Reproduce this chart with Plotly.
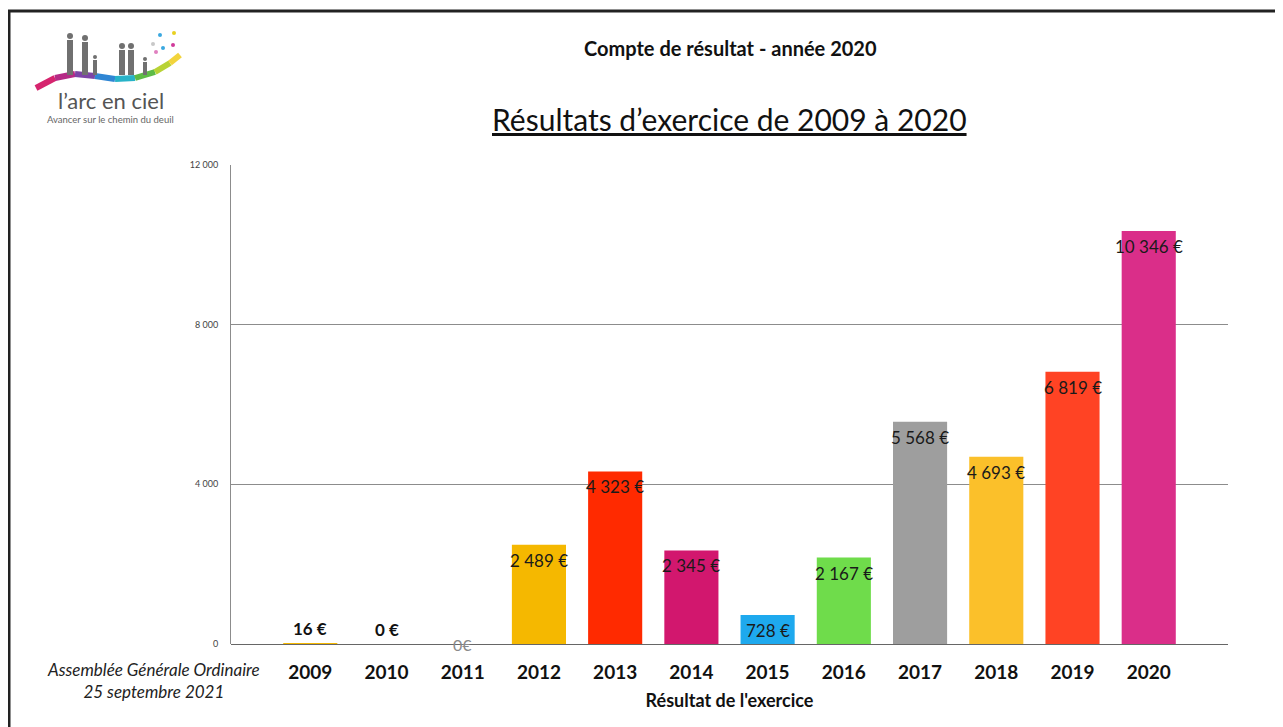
import plotly.graph_objects as go

# data
years = ["2009", "2010", "2011", "2012", "2013", "2014", "2015", "2016", "2017", "2018", "2019", "2020"]
results = [16, 0, 0, 2489, 4323, 2345, 728, 2167, 5568, 4693, 6819, 10346]
labels = ["16 €", "0 €", "0€", "2 489 €", "4 323 €", "2 345 €", "728 €", "2 167 €",
          "5 568 €", "4 693 €", "6 819 €", "10 346 €"]
bar_colors = ["#F5B800", "#F5B800", "#F5B800", "#F5B800", "#FF2A00", "#D2176E", "#1EA9EE",
              "#6FDC4B", "#9E9E9E", "#FBC02A", "#FF4324", "#DA2E89"]
y_ticks = [0, 4000, 8000, 12000]
y_ticktext = ["0", "4 000", "8 000", "12 000"]

# the page body has an 8px margin, so the figure is drawn 8px in from the corner
OX, OY = 8, 8
W, H = 1283 - OX, 727 - OY
L, R, T, B = 231 - OX, 55, 165 - OY, 83
FONT = "Lato"


def px(x):
    return (x - OX - L) / (W - L - R)


def py(y):
    return (H - B - (y - OY)) / (H - T - B)


def note(x, y, text, size, color="#111", **kw):
    return dict(xref="paper", yref="paper", x=px(x), y=py(y), text=text, showarrow=False,
                xanchor="center", yanchor="middle",
                font=dict(family=FONT, size=size, color=color), **kw)


fig = go.Figure()
fig.add_trace(go.Bar(
    x=years, y=results, marker=dict(color=bar_colors, line=dict(width=0)),
    width=0.71, hoverinfo="x+y",
))

# value labels; x is the category index (numeric-looking names get read as numbers)
annotations = []
for i, (v, lab) in enumerate(zip(results, labels)):
    if i < 2:
        # tiny values: bold label sitting just above the axis
        annotations.append(dict(x=i, y=v, text="<b>" + lab + "</b>", showarrow=False,
                                xanchor="center", yanchor="bottom", yshift=2,
                                font=dict(family=FONT, size=17, color="#111")))
    elif i == 2:
        annotations.append(dict(x=i, y=v, text=lab, showarrow=False,
                                xanchor="center", yanchor="middle",
                                font=dict(family=FONT, size=16, color="#8a8a8a")))
    else:
        annotations.append(dict(x=i, y=v, text=lab, showarrow=False,
                                xanchor="center", yanchor="top", yshift=-3,
                                font=dict(family=FONT, size=17, color="#1a1a1a")))

# slide texts
annotations += [
    note(730, 48, "<b>Compte de résultat - année 2020</b>", 20),
    note(729, 119, "<u>Résultats d’exercice de 2009 à 2020</u>", 30),
    note(153, 680, "<i>Assemblée Générale Ordinaire<br>25 septembre 2021</i>", 17, "#222"),
    note(111, 101, "l’arc en ciel", 22, "#555"),
    note(110, 119, "Avancer sur le chemin du deuil", 9.5, "#666"),
]

shapes = [
    # slide frame
    dict(type="rect", xref="paper", yref="paper", x0=px(9), x1=px(1300), y0=py(11), y1=py(760),
         line=dict(color="#222", width=3), fillcolor="rgba(0,0,0,0)", layer="below"),
]

# logo swoosh, drawn as a chain of coloured strokes
swoosh = [(36, 88), (55, 78), (75, 74), (95, 76), (115, 79), (135, 78), (155, 72), (170, 63), (180, 55)]
swoosh_cols = ["#D6246E", "#B52A86", "#7C44A6", "#2F86D4", "#27B3C8", "#5DBB46", "#B8D235", "#F2D43C"]
for (x0, y0), (x1, y1), c in zip(swoosh[:-1], swoosh[1:], swoosh_cols):
    shapes.append(dict(type="line", xref="paper", yref="paper", x0=px(x0), y0=py(y0), x1=px(x1), y1=py(y1),
                       line=dict(color=c, width=6)))
# little silhouettes
for xc, top, hw in [(70, 40, 3), (85, 42, 3), (95, 60, 2), (122, 50, 3), (131, 50, 3), (145, 62, 2)]:
    shapes.append(dict(type="rect", xref="paper", yref="paper", x0=px(xc - hw), x1=px(xc + hw),
                       y0=py(top), y1=py(75), fillcolor="#707070", line=dict(width=0)))
    shapes.append(dict(type="circle", xref="paper", yref="paper", x0=px(xc - hw), x1=px(xc + hw),
                       y0=py(top - 2 * hw - 1), y1=py(top - 1), fillcolor="#707070", line=dict(width=0)))
# butterflies
for bx, by, bc in [(160, 35, "#3AA8E0"), (174, 33, "#E8D020"), (173, 45, "#D03A9A"),
                   (163, 48, "#3AA8E0"), (156, 52, "#E080C0"), (153, 44, "#C8C8C8")]:
    shapes.append(dict(type="circle", xref="paper", yref="paper", x0=px(bx - 2), x1=px(bx + 2),
                       y0=py(by - 2), y1=py(by + 2), fillcolor=bc, line=dict(width=0)))

fig.update_layout(
    width=W, height=H,
    margin=dict(l=L, r=R, t=T, b=B),
    paper_bgcolor="white", plot_bgcolor="white",
    showlegend=False,
    annotations=annotations,
    shapes=shapes,
    xaxis=dict(
        type="category",
        range=[-1.04, 12.04], showgrid=False, zeroline=False,
        showline=False,
        tickfont=dict(family=FONT, size=19, color="#111", weight="bold"),
        ticks="outside", ticklen=11, tickcolor="rgba(0,0,0,0)",
        title=dict(text="<b>Résultat de l'exercice</b>", standoff=12,
                   font=dict(family=FONT, size=18, color="#111")),
    ),
    yaxis=dict(
        range=[0, 12000], tickvals=y_ticks, ticktext=y_ticktext,
        showgrid=True, gridcolor="#8c8c8c", gridwidth=1,
        zeroline=True, zerolinecolor="#666", zerolinewidth=1,
        showline=True, linecolor="#8c8c8c", linewidth=1,
        ticks="outside", ticklen=10, tickcolor="rgba(0,0,0,0)",
        tickfont=dict(family=FONT, size=9, color="#444"),
    ),
)

fig.write_html("out.html")
